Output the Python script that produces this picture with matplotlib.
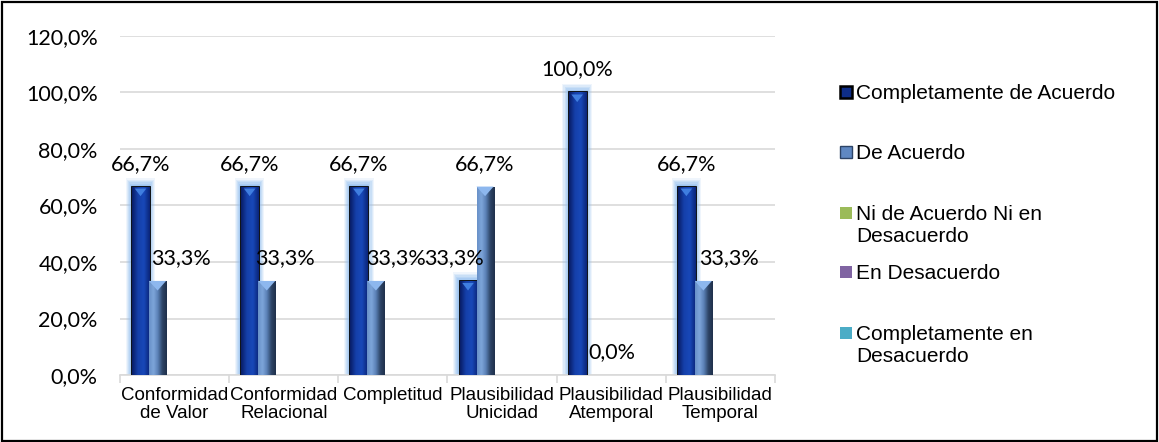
import numpy as np
import matplotlib
matplotlib.use("Agg")
import matplotlib.pyplot as plt
from matplotlib.patches import Rectangle, Polygon
from matplotlib.colors import LinearSegmentedColormap
from matplotlib.ticker import FuncFormatter, FixedLocator

plt.rcParams["font.family"] = "Liberation Sans"

categories = ["Conformidad\nde Valor", "Conformidad\nRelacional", "Completitud",
              "Plausibilidad\nUnicidad", "Plausibilidad\nAtemporal", "Plausibilidad\nTemporal"]
series_names = ["Completamente de Acuerdo", "De Acuerdo", "Ni de Acuerdo Ni en\nDesacuerdo",
                "En Desacuerdo", "Completamente en\nDesacuerdo"]
completamente_acuerdo = [66.7, 66.7, 66.7, 33.3, 100.0, 66.7]
de_acuerdo = [33.3, 33.3, 33.3, 66.7, 0.0, 33.3]
ni_ni = [0.0, 0.0, 0.0, 0.0, 0.0, 0.0]
en_desacuerdo = [0.0, 0.0, 0.0, 0.0, 0.0, 0.0]
completamente_desacuerdo = [0.0, 0.0, 0.0, 0.0, 0.0, 0.0]
series = [completamente_acuerdo, de_acuerdo, ni_ni, en_desacuerdo, completamente_desacuerdo]

# label nudges in pixels (hand-placed labels)
label_dx = [[0, 0, 0, -14, 0, 0], [23, 18, 20, 0, 18, 26]]

plain_colors = [None, None, "#9bbb59", "#8064a2", "#4bacc6"]
dark_cmap = LinearSegmentedColormap.from_list("dk", ["#081d66", "#1540aa", "#1848b8", "#0a2478"])
light_cmap = LinearSegmentedColormap.from_list("lt", ["#6890c8", "#7ea6da", "#5a80b6", "#2d4466", "#1f2f4a"])

W, H = 1159, 442
fig = plt.figure(figsize=(W / 100, H / 100), dpi=100)
ax = fig.add_axes([120 / W, 1 - 375 / H, 655 / W, 339 / H])

x = np.arange(len(categories))
w = 0.156
gap = 1 - 5 * w


def fmt_pct(v):
    return f"{v:.1f}%".replace(".", ",")


def shade(ax, rect, cmap):
    grad = np.linspace(0, 1, 64).reshape(1, -1)
    x0, y0 = rect.get_x(), rect.get_y()
    im = ax.imshow(grad, cmap=cmap, aspect="auto", interpolation="bicubic",
                   extent=(x0, x0 + rect.get_width(), y0, y0 + rect.get_height()),
                   zorder=rect.get_zorder() + 0.1)
    im.set_clip_path(rect)


for j, vals in enumerate(series):
    pos = x - 0.5 + gap / 2 + w * (j + 0.5)
    if j == 0:
        # soft halo behind the dark bars
        for k, a in zip(range(6, 0, -1), [0.15, 0.2, 0.25, 0.3, 0.4, 0.5]):
            pad = k * 0.0095
            for p, v in zip(pos, vals):
                ax.add_patch(Rectangle((p - w / 2 - pad, 0), w + 2 * pad, v + k * 0.5,
                                       facecolor="#94bff0", edgecolor="none", alpha=a, zorder=2))
        bars = ax.bar(pos, vals, w, color="#0e2d88", edgecolor="black", linewidth=2.0, zorder=3)
        for b in bars:
            shade(ax, b, dark_cmap)
            bx, bw, bh = b.get_x(), b.get_width(), b.get_height()
            ax.add_patch(Polygon([(bx + 0.025, bh - 0.7), (bx + bw - 0.025, bh - 0.7),
                                  (bx + bw / 2, bh - 3.4)], closed=True,
                                 facecolor="#3f7ee0", edgecolor="none", zorder=3.5))
    elif j == 1:
        bars = ax.bar(pos, vals, w, color="#5f88c2", edgecolor="#1f2f4a", linewidth=0.6, zorder=3)
        for b in bars:
            if b.get_height() <= 0:
                continue
            shade(ax, b, light_cmap)
            bx, bw, bh = b.get_x(), b.get_width(), b.get_height()
            ax.add_patch(Polygon([(bx, bh), (bx + bw, bh), (bx + bw / 2, bh - 3.4)], closed=True,
                                 facecolor="#8db7ee", edgecolor="none", zorder=3.5))
    else:
        ax.bar(pos, vals, w, color=plain_colors[j], zorder=3)

    if j < 2:
        for i, (p, v) in enumerate(zip(pos, vals)):
            ax.annotate(fmt_pct(v), (p, v), xytext=(label_dx[j][i] * 0.72, 16.5),
                        textcoords="offset points", ha="center", va="center",
                        fontsize=15.5, family="Lato", zorder=5)

ax.set_xlim(-0.5, 5.5)
ax.set_ylim(0, 120)
ax.set_yticks(np.arange(0, 121, 20))
ax.yaxis.set_major_formatter(FuncFormatter(lambda v, _: fmt_pct(v)))
ax.yaxis.grid(True, color="#d9d9d9", linewidth=1.2)
ax.set_axisbelow(True)
ax.tick_params(axis="y", length=0, pad=16, labelsize=15.5)
for lab in ax.get_yticklabels():
    lab.set_family("Lato")

ax.set_xticks(x)
ax.set_xticklabels(categories, fontsize=13.5, linespacing=1.0)
ax.xaxis.set_minor_locator(FixedLocator(np.arange(-0.5, 6, 1)))
ax.tick_params(axis="x", which="major", length=0, pad=9)
ax.tick_params(axis="x", which="minor", length=6, color="#d9d9d9", width=1.2)
for s in ["top", "right", "left"]:
    ax.spines[s].set_visible(False)
ax.spines["bottom"].set_color("#d9d9d9")
ax.spines["bottom"].set_linewidth(1.2)

# legend entries: swatch beside the first line of each label
legend_rows = [92, 152, 213, 272, 333]
swatches = [("#0e2d88", "black", 1.8), ("#5f88c2", "#2d4466", 1.0),
            ("#9bbb59", "none", 0), ("#8064a2", "none", 0), ("#4bacc6", "none", 0)]
for name, yc, (fc, ec, lw) in zip(series_names, legend_rows, swatches):
    fig.patches.append(Rectangle((840 / W, 1 - (yc + 6) / H), 12 / W, 12 / H,
                                 transform=fig.transFigure, facecolor=fc, edgecolor=ec,
                                 linewidth=lw))
    fig.text(856 / W, 1 - (yc - 8) / H, name, fontsize=15, va="top", ha="left",
             linespacing=1.2)

fig.patches.append(Rectangle((0.002, 0.003), 0.996, 0.993, transform=fig.transFigure,
                             fill=False, edgecolor="black", linewidth=1.6))

fig.savefig("out.png", dpi=100)
